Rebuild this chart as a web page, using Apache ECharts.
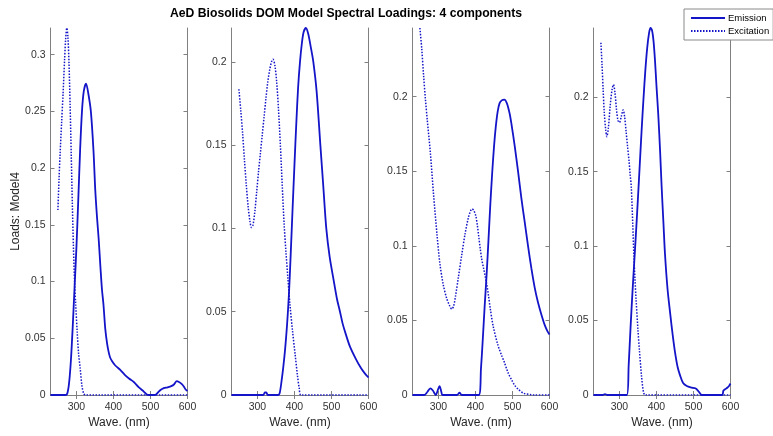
<!DOCTYPE html>
<html>
<head>
<meta charset="utf-8">
<script src="https://cdn.jsdelivr.net/npm/echarts@6/dist/echarts.min.js"></script>
<style>html,body{margin:0;padding:0;background:#fff}#c{width:773px;height:436px}</style>
</head>
<body>
<div id="c"></div>
<script>
const titleText = 'AeD Biosolids DOM Model Spectral Loadings: 4 components';
const yName = 'Loads: Model4';
const xName = 'Wave. (nm)';
const waveRange = [230, 600];
const waveTicks = [300, 400, 500, 600];
const loadTicks = [0, 0.05, 0.1, 0.15, 0.2, 0.25, 0.3];

// [wavelength nm, loading]
const em1 = [[230,0],[260,0],[270,0],[275,0.001],[280,0.01],[285,0.03],[290,0.06],[295,0.095],[300,0.13],[305,0.172],[310,0.216],[315,0.25],[320,0.268],[326,0.2745],[332,0.266],[339,0.25],[346,0.216],[351,0.18],[356,0.155],[360,0.138],[365,0.112],[369,0.093],[373,0.08],[378,0.058],[383,0.045],[387,0.038],[391,0.033],[396,0.03],[405,0.026],[419,0.022],[430,0.018],[442,0.0145],[455,0.0115],[468,0.007],[482,0.003],[490,0.0005],[497,0],[512,0],[518,0.0015],[527,0.0044],[536,0.006],[546,0.0068],[556,0.0078],[564,0.0095],[571,0.0123],[577,0.0115],[584,0.0098],[590,0.0075],[595,0.0048],[600,0.0035]];
const ex1 = [[250,0.163],[253,0.19],[256,0.213],[260,0.24],[264,0.266],[268,0.295],[271,0.314],[274,0.3235],[277,0.316],[280,0.292],[283,0.255],[286,0.212],[289,0.168],[292,0.13],[295,0.1],[298,0.08],[302,0.056],[306,0.036],[310,0.024],[315,0.008],[320,0.001],[325,0],[600,0]];

const em2 = [[230,0],[316,0],[320,0.0015],[324,0.0015],[328,0],[356,0],[360,0.001],[365,0.008],[370,0.017],[375,0.028],[380,0.042],[385,0.06],[390,0.085],[395,0.112],[400,0.138],[405,0.163],[410,0.185],[415,0.2],[420,0.211],[425,0.218],[431,0.2203],[437,0.217],[444,0.209],[451,0.2],[460,0.182],[470,0.15],[478,0.125],[486,0.1],[495,0.083],[505,0.07],[515,0.0575],[523,0.05],[530,0.043],[538,0.037],[550,0.029],[565,0.022],[580,0.016],[590,0.013],[600,0.0105]];
const ex2 = [[250,0.1835],[255,0.171],[260,0.157],[265,0.141],[270,0.126],[275,0.113],[280,0.104],[284,0.1005],[288,0.102],[293,0.11],[298,0.122],[303,0.134],[308,0.145],[313,0.156],[318,0.167],[323,0.178],[328,0.188],[333,0.195],[338,0.2],[342,0.2015],[347,0.198],[352,0.188],[357,0.171],[362,0.15],[367,0.126],[372,0.103],[377,0.086],[382,0.071],[388,0.054],[395,0.038],[402,0.024],[408,0.012],[413,0.004],[418,0],[600,0]];

const em3 = [[230,0],[262,0],[270,0.002],[278,0.0044],[285,0.003],[293,0],[298,0.003],[303,0.006],[308,0.002],[311,0],[350,0],[357,0.0015],[363,0],[409,0],[415,0.018],[420,0.038],[425,0.06],[430,0.08],[435,0.103],[440,0.127],[445,0.148],[450,0.166],[455,0.18],[460,0.19],[465,0.1955],[471,0.1975],[478,0.198],[485,0.1955],[492,0.189],[497,0.182],[506,0.167],[515,0.15],[524,0.132],[533,0.116],[542,0.1],[551,0.085],[560,0.072],[569,0.062],[578,0.054],[587,0.047],[594,0.043],[600,0.0405]];
const ex3 = [[250,0.246],[255,0.232],[260,0.214],[265,0.198],[270,0.184],[278,0.163],[287,0.134],[296,0.108],[304,0.088],[313,0.074],[322,0.065],[330,0.06],[336,0.0576],[341,0.0595],[346,0.066],[354,0.079],[363,0.094],[372,0.108],[381,0.119],[387,0.1235],[391,0.1247],[396,0.1235],[401,0.12],[405,0.114],[409,0.106],[413,0.098],[417,0.091],[422,0.085],[426,0.08],[430,0.075],[435,0.067],[440,0.058],[448,0.046],[460,0.034],[470,0.027],[478,0.022],[488,0.015],[498,0.01],[506,0.0065],[515,0.004],[530,0.0012],[550,0.0002],[560,0],[600,0]];

const em4 = [[230,0],[255,0],[261,0.0006],[267,0],[320,0],[325,0.02],[330,0.045],[335,0.068],[340,0.089],[345,0.11],[350,0.132],[355,0.155],[360,0.178],[365,0.199],[370,0.218],[375,0.233],[380,0.243],[384,0.2465],[388,0.245],[392,0.238],[396,0.225],[400,0.208],[405,0.188],[410,0.163],[414,0.14],[419,0.115],[423,0.095],[430,0.071],[437,0.055],[444,0.04],[450,0.029],[457,0.019],[464,0.013],[472,0.008],[482,0.006],[495,0.005],[505,0.0045],[512,0.003],[518,0.001],[523,0],[577,0],[581,0.003],[586,0.004],[592,0.005],[596,0.006],[600,0.0077]];
const ex4 = [[250,0.2366],[253,0.222],[256,0.205],[259,0.19],[263,0.178],[266,0.1735],[270,0.179],[275,0.194],[280,0.205],[284,0.2085],[288,0.203],[292,0.192],[296,0.1845],[300,0.183],[305,0.187],[310,0.1915],[314,0.187],[318,0.177],[322,0.167],[326,0.157],[329,0.148],[332,0.14],[336,0.115],[339,0.094],[342,0.078],[345,0.064],[350,0.044],[354,0.03],[360,0.012],[365,0.002],[370,0],[600,0]];

const emission = [em1, em2, em3, em4];
const excitation = [ex1, ex2, ex3, ex4];

const FONT = '"Liberation Sans", Arial, Helvetica, sans-serif';
const LINE = '#1414c8';
const AX = '#808080';
const panelLeft = [50.5, 231.5, 412.5, 593.5];
const panelWidth = 137;
const gridTop = 28, gridHeight = 367;

const grids = [], xAxes = [], yAxes = [], series = [];
for (let i = 0; i < 4; i++) {
  const yMax = Math.max(...emission[i].map(p => p[1]), ...excitation[i].map(p => p[1]));
  const yVals = loadTicks.filter(v => v <= yMax);
  grids.push({left: panelLeft[i], top: gridTop, width: panelWidth, height: gridHeight, containLabel: false, outerBoundsMode: 'none'});
  const common = {
    type: 'value', gridIndex: i, min: waveRange[0], max: waveRange[1],
    axisLine: {show: true, lineStyle: {color: AX, width: 1}},
    axisTick: {show: true, inside: true, length: 4, lineStyle: {color: AX}, customValues: waveTicks},
    splitLine: {show: false}
  };
  xAxes.push(Object.assign({}, common, {
    position: 'bottom',
    name: xName, nameLocation: 'middle', nameGap: 22, nameMoveOverlap: false,
    nameTextStyle: {fontFamily: FONT, fontSize: 12, color: '#262626'},
    axisLabel: {show: true, customValues: waveTicks, fontFamily: FONT, fontSize: 10.5, color: '#333', margin: 7}
  }));
  xAxes.push(Object.assign({}, common, {position: 'top', axisLabel: {show: false}}));
  const ycommon = {
    type: 'value', gridIndex: i, min: 0, max: yMax,
    axisLine: {show: true, lineStyle: {color: AX, width: 1}},
    axisTick: {show: true, inside: true, length: 4, lineStyle: {color: AX}, customValues: yVals},
    splitLine: {show: false}
  };
  yAxes.push(Object.assign({}, ycommon, {
    position: 'left',
    name: i === 0 ? yName : '', nameLocation: 'middle', nameGap: 29, nameMoveOverlap: false,
    nameTextStyle: {fontFamily: FONT, fontSize: 12, color: '#262626'},
    axisLabel: {show: true, customValues: yVals, fontFamily: FONT, fontSize: 10.5, color: '#333', margin: 5,
      formatter: v => String(Math.round(v * 100) / 100)}
  }));
  yAxes.push(Object.assign({}, ycommon, {position: 'right', axisLabel: {show: false}}));
  series.push({
    type: 'line', name: 'Emission', xAxisIndex: 2 * i, yAxisIndex: 2 * i,
    data: emission[i], symbol: 'none', showSymbol: false, smooth: 0.3,
    lineStyle: {color: LINE, width: 1.8}, itemStyle: {color: LINE}, z: 3
  });
  series.push({
    type: 'line', name: 'Excitation', xAxisIndex: 2 * i, yAxisIndex: 2 * i,
    data: excitation[i], symbol: 'none', showSymbol: false, smooth: 0.3,
    lineStyle: {color: LINE, width: 1.5, type: [1.5, 1.5]}, itemStyle: {color: LINE}, z: 3
  });
}

const chart = echarts.init(document.getElementById('c'), null, {renderer: 'canvas'});
chart.setOption({
  animation: false,
  backgroundColor: '#fff',
  title: {text: titleText, left: 170, top: 8, padding: 0,
    textStyle: {fontFamily: FONT, fontSize: 12.2, fontWeight: 'bold', color: '#000'}},
  legend: {
    data: ['Emission', 'Excitation'], orient: 'vertical', left: 684, top: 9,
    itemWidth: 34, itemHeight: 10, itemGap: 3, padding: [4, 4, 4, 6],
    itemStyle: {opacity: 0},
    borderColor: '#8a8a8a', borderWidth: 1, backgroundColor: '#fff',
    textStyle: {fontFamily: FONT, fontSize: 9.5, color: '#000', padding: [0, 0, 0, -2]}
  },
  grid: grids, xAxis: xAxes, yAxis: yAxes, series: series
});
</script>
</body>
</html>
